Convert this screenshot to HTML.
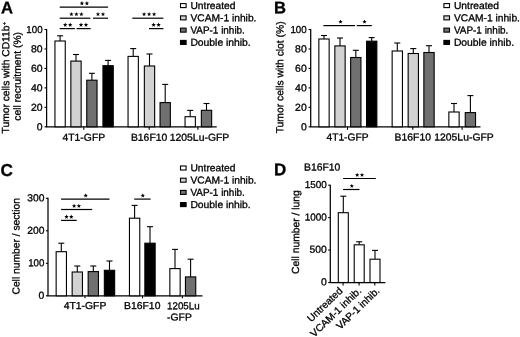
<!DOCTYPE html>
<html><head><meta charset="utf-8"><title>Figure</title>
<style>
html,body{margin:0;padding:0;background:#fff;}
svg{display:block;will-change:transform;font-family:"Liberation Sans",sans-serif;fill:#000;}
text{stroke:#000;stroke-width:0.3px;}
</style></head><body>
<svg width="520" height="337" viewBox="0 0 520 337">
<rect x="0" y="0" width="520" height="337" fill="#fff"/>
<line x1="46.60" y1="29.00" x2="46.60" y2="126.80" stroke="#000" stroke-width="1.25"/>
<line x1="46.00" y1="126.80" x2="216.70" y2="126.80" stroke="#000" stroke-width="1.25"/>
<line x1="44.50" y1="126.80" x2="46.60" y2="126.80" stroke="#000" stroke-width="1.1"/>
<text font-size="10.05" text-anchor="end" transform="matrix(1.04 0.001 0 1 42.60 130.20)">0</text>
<line x1="44.50" y1="107.34" x2="46.60" y2="107.34" stroke="#000" stroke-width="1.1"/>
<text font-size="10.05" text-anchor="end" transform="matrix(1.04 0.001 0 1 42.60 110.74)">20</text>
<line x1="44.50" y1="87.88" x2="46.60" y2="87.88" stroke="#000" stroke-width="1.1"/>
<text font-size="10.05" text-anchor="end" transform="matrix(1.04 0.001 0 1 42.60 91.28)">40</text>
<line x1="44.50" y1="68.42" x2="46.60" y2="68.42" stroke="#000" stroke-width="1.1"/>
<text font-size="10.05" text-anchor="end" transform="matrix(1.04 0.001 0 1 42.60 71.82)">60</text>
<line x1="44.50" y1="48.96" x2="46.60" y2="48.96" stroke="#000" stroke-width="1.1"/>
<text font-size="10.05" text-anchor="end" transform="matrix(1.04 0.001 0 1 42.60 52.36)">80</text>
<line x1="44.50" y1="29.50" x2="46.60" y2="29.50" stroke="#000" stroke-width="1.1"/>
<text font-size="10.05" text-anchor="end" transform="matrix(0.97 0.001 0 1 42.60 32.90)">100</text>
<line x1="83.80" y1="126.80" x2="83.80" y2="129.80" stroke="#000" stroke-width="1.1"/>
<line x1="149.20" y1="126.80" x2="149.20" y2="129.80" stroke="#000" stroke-width="1.1"/>
<line x1="197.90" y1="126.80" x2="197.90" y2="129.80" stroke="#000" stroke-width="1.1"/>
<text font-size="10.05" text-anchor="middle" transform="matrix(1.035 0.001 0 1 83.80 140.70)">4T1-GFP</text>
<text font-size="10.05" text-anchor="middle" transform="matrix(1.035 0.001 0 1 149.10 140.70)">B16F10</text>
<text font-size="10.05" text-anchor="middle" transform="matrix(1.035 0.001 0 1 199.50 140.70)">1205Lu-GFP</text>
<line x1="60.10" y1="35.80" x2="60.10" y2="41.00" stroke="#000" stroke-width="1.1"/>
<line x1="57.10" y1="35.80" x2="63.10" y2="35.80" stroke="#000" stroke-width="1.1"/>
<rect x="54.95" y="41.00" width="10.30" height="85.80" fill="#ffffff" stroke="#000" stroke-width="1.1"/>
<line x1="76.00" y1="54.50" x2="76.00" y2="61.10" stroke="#000" stroke-width="1.1"/>
<line x1="73.00" y1="54.50" x2="79.00" y2="54.50" stroke="#000" stroke-width="1.1"/>
<rect x="70.85" y="61.10" width="10.30" height="65.70" fill="#d2d2d2" stroke="#000" stroke-width="1.1"/>
<line x1="91.90" y1="73.30" x2="91.90" y2="80.20" stroke="#000" stroke-width="1.1"/>
<line x1="88.90" y1="73.30" x2="94.90" y2="73.30" stroke="#000" stroke-width="1.1"/>
<rect x="86.75" y="80.20" width="10.30" height="46.60" fill="#707070" stroke="#000" stroke-width="1.1"/>
<line x1="108.10" y1="60.40" x2="108.10" y2="65.70" stroke="#000" stroke-width="1.1"/>
<line x1="105.10" y1="60.40" x2="111.10" y2="60.40" stroke="#000" stroke-width="1.1"/>
<rect x="102.95" y="65.70" width="10.30" height="61.10" fill="#000000" stroke="#000" stroke-width="1.1"/>
<line x1="133.20" y1="48.60" x2="133.20" y2="56.40" stroke="#000" stroke-width="1.1"/>
<line x1="130.20" y1="48.60" x2="136.20" y2="48.60" stroke="#000" stroke-width="1.1"/>
<rect x="128.05" y="56.40" width="10.30" height="70.40" fill="#ffffff" stroke="#000" stroke-width="1.1"/>
<line x1="149.50" y1="54.00" x2="149.50" y2="66.00" stroke="#000" stroke-width="1.1"/>
<line x1="146.50" y1="54.00" x2="152.50" y2="54.00" stroke="#000" stroke-width="1.1"/>
<rect x="144.35" y="66.00" width="10.30" height="60.80" fill="#d2d2d2" stroke="#000" stroke-width="1.1"/>
<line x1="165.20" y1="84.40" x2="165.20" y2="102.60" stroke="#000" stroke-width="1.1"/>
<line x1="162.20" y1="84.40" x2="168.20" y2="84.40" stroke="#000" stroke-width="1.1"/>
<rect x="160.05" y="102.60" width="10.30" height="24.20" fill="#707070" stroke="#000" stroke-width="1.1"/>
<line x1="190.20" y1="110.40" x2="190.20" y2="116.70" stroke="#000" stroke-width="1.1"/>
<line x1="187.20" y1="110.40" x2="193.20" y2="110.40" stroke="#000" stroke-width="1.1"/>
<rect x="185.05" y="116.70" width="10.30" height="10.10" fill="#ffffff" stroke="#000" stroke-width="1.1"/>
<line x1="206.50" y1="103.50" x2="206.50" y2="110.30" stroke="#000" stroke-width="1.1"/>
<line x1="203.50" y1="103.50" x2="209.50" y2="103.50" stroke="#000" stroke-width="1.1"/>
<rect x="201.35" y="110.30" width="10.30" height="16.50" fill="#707070" stroke="#000" stroke-width="1.1"/>
<line x1="59.70" y1="7.20" x2="108.10" y2="7.20" stroke="#000" stroke-width="1.2"/>
<polygon points="81.90,1.10 82.49,2.59 84.09,2.69 82.85,3.71 83.25,5.26 81.90,4.40 80.55,5.26 80.95,3.71 79.71,2.69 81.31,2.59" fill="#000"/>
<polygon points="86.90,1.10 87.49,2.59 89.09,2.69 87.85,3.71 88.25,5.26 86.90,4.40 85.55,5.26 85.95,3.71 84.71,2.69 86.31,2.59" fill="#000"/>
<line x1="59.70" y1="18.20" x2="90.40" y2="18.20" stroke="#000" stroke-width="1.2"/>
<polygon points="71.40,11.90 71.99,13.39 73.59,13.49 72.35,14.51 72.75,16.06 71.40,15.20 70.05,16.06 70.45,14.51 69.21,13.49 70.81,13.39" fill="#000"/>
<polygon points="76.40,11.90 76.99,13.39 78.59,13.49 77.35,14.51 77.75,16.06 76.40,15.20 75.05,16.06 75.45,14.51 74.21,13.49 75.81,13.39" fill="#000"/>
<polygon points="81.40,11.90 81.99,13.39 83.59,13.49 82.35,14.51 82.75,16.06 81.40,15.20 80.05,16.06 80.45,14.51 79.21,13.49 80.81,13.39" fill="#000"/>
<line x1="93.00" y1="18.20" x2="108.10" y2="18.20" stroke="#000" stroke-width="1.2"/>
<polygon points="98.00,11.90 98.59,13.39 100.19,13.49 98.95,14.51 99.35,16.06 98.00,15.20 96.65,16.06 97.05,14.51 95.81,13.49 97.41,13.39" fill="#000"/>
<polygon points="103.00,11.90 103.59,13.39 105.19,13.49 103.95,14.51 104.35,16.06 103.00,15.20 101.65,16.06 102.05,14.51 100.81,13.49 102.41,13.39" fill="#000"/>
<line x1="59.70" y1="28.60" x2="74.80" y2="28.60" stroke="#000" stroke-width="1.2"/>
<polygon points="65.20,22.60 65.79,24.09 67.39,24.19 66.15,25.21 66.55,26.76 65.20,25.90 63.85,26.76 64.25,25.21 63.01,24.19 64.61,24.09" fill="#000"/>
<polygon points="70.20,22.60 70.79,24.09 72.39,24.19 71.15,25.21 71.55,26.76 70.20,25.90 68.85,26.76 69.25,25.21 68.01,24.19 69.61,24.09" fill="#000"/>
<line x1="76.50" y1="28.60" x2="90.60" y2="28.60" stroke="#000" stroke-width="1.2"/>
<polygon points="81.00,22.60 81.59,24.09 83.19,24.19 81.95,25.21 82.35,26.76 81.00,25.90 79.65,26.76 80.05,25.21 78.81,24.19 80.41,24.09" fill="#000"/>
<polygon points="86.00,22.60 86.59,24.09 88.19,24.19 86.95,25.21 87.35,26.76 86.00,25.90 84.65,26.76 85.05,25.21 83.81,24.19 85.41,24.09" fill="#000"/>
<line x1="132.30" y1="18.20" x2="163.40" y2="18.20" stroke="#000" stroke-width="1.2"/>
<polygon points="144.10,11.90 144.69,13.39 146.29,13.49 145.05,14.51 145.45,16.06 144.10,15.20 142.75,16.06 143.15,14.51 141.91,13.49 143.51,13.39" fill="#000"/>
<polygon points="149.10,11.90 149.69,13.39 151.29,13.49 150.05,14.51 150.45,16.06 149.10,15.20 147.75,16.06 148.15,14.51 146.91,13.49 148.51,13.39" fill="#000"/>
<polygon points="154.10,11.90 154.69,13.39 156.29,13.49 155.05,14.51 155.45,16.06 154.10,15.20 152.75,16.06 153.15,14.51 151.91,13.49 153.51,13.39" fill="#000"/>
<line x1="149.00" y1="28.60" x2="163.40" y2="28.60" stroke="#000" stroke-width="1.2"/>
<polygon points="153.60,22.60 154.19,24.09 155.79,24.19 154.55,25.21 154.95,26.76 153.60,25.90 152.25,26.76 152.65,25.21 151.41,24.19 153.01,24.09" fill="#000"/>
<polygon points="158.60,22.60 159.19,24.09 160.79,24.19 159.55,25.21 159.95,26.76 158.60,25.90 157.25,26.76 157.65,25.21 156.41,24.19 158.01,24.09" fill="#000"/>
<rect x="180.50" y="3.60" width="5.6" height="4" fill="#ffffff" stroke="#000" stroke-width="1.1"/>
<text font-size="10.05" transform="matrix(1.022 0.001 0 1 190.40 8.90)">Untreated</text>
<rect x="180.50" y="15.87" width="5.6" height="4" fill="#d2d2d2" stroke="#000" stroke-width="1.1"/>
<text font-size="10.05" transform="matrix(1.02 0.001 0 1 190.40 21.17)">VCAM-1 inhib.</text>
<rect x="180.50" y="28.14" width="5.6" height="4" fill="#707070" stroke="#000" stroke-width="1.1"/>
<text font-size="10.05" transform="matrix(0.99 0.001 0 1 190.40 33.44)">VAP-1 inhib.</text>
<rect x="180.50" y="40.41" width="5.6" height="4" fill="#000000" stroke="#000" stroke-width="1.1"/>
<text font-size="10.05" transform="matrix(1.03 0.001 0 1 190.40 45.71)">Double inhib.</text>
<text font-size="16.6" font-weight="bold" transform="matrix(1.0 0.001 0 1 1.00 13.20)">A</text>
<text font-size="10.27" transform="translate(9.10 133.40) rotate(-89.94) scale(1.0 1)">Tumor cells with CD11b<tspan font-size="5.5" dx="0.6" dy="-3.0">+</tspan></text>
<text font-size="10.3" transform="translate(20.70 120.70) rotate(-89.94) scale(1.0 1)">cell recruitment (%)</text>
<line x1="310.70" y1="29.00" x2="310.70" y2="126.80" stroke="#000" stroke-width="1.25"/>
<line x1="310.10" y1="126.80" x2="480.50" y2="126.80" stroke="#000" stroke-width="1.25"/>
<line x1="308.60" y1="126.80" x2="310.70" y2="126.80" stroke="#000" stroke-width="1.1"/>
<text font-size="10.05" text-anchor="end" transform="matrix(1.04 0.001 0 1 306.70 130.20)">0</text>
<line x1="308.60" y1="107.34" x2="310.70" y2="107.34" stroke="#000" stroke-width="1.1"/>
<text font-size="10.05" text-anchor="end" transform="matrix(1.04 0.001 0 1 306.70 110.74)">20</text>
<line x1="308.60" y1="87.88" x2="310.70" y2="87.88" stroke="#000" stroke-width="1.1"/>
<text font-size="10.05" text-anchor="end" transform="matrix(1.04 0.001 0 1 306.70 91.28)">40</text>
<line x1="308.60" y1="68.42" x2="310.70" y2="68.42" stroke="#000" stroke-width="1.1"/>
<text font-size="10.05" text-anchor="end" transform="matrix(1.04 0.001 0 1 306.70 71.82)">60</text>
<line x1="308.60" y1="48.96" x2="310.70" y2="48.96" stroke="#000" stroke-width="1.1"/>
<text font-size="10.05" text-anchor="end" transform="matrix(1.04 0.001 0 1 306.70 52.36)">80</text>
<line x1="308.60" y1="29.50" x2="310.70" y2="29.50" stroke="#000" stroke-width="1.1"/>
<text font-size="10.05" text-anchor="end" transform="matrix(0.97 0.001 0 1 306.70 32.90)">100</text>
<line x1="347.50" y1="126.80" x2="347.50" y2="129.80" stroke="#000" stroke-width="1.1"/>
<line x1="412.80" y1="126.80" x2="412.80" y2="129.80" stroke="#000" stroke-width="1.1"/>
<line x1="462.10" y1="126.80" x2="462.10" y2="129.80" stroke="#000" stroke-width="1.1"/>
<text font-size="10.05" text-anchor="middle" transform="matrix(1.02 0.001 0 1 347.50 140.50)">4T1-GFP</text>
<text font-size="10.05" text-anchor="middle" transform="matrix(1.035 0.001 0 1 412.80 140.50)">B16F10</text>
<text font-size="10.05" text-anchor="middle" transform="matrix(1.035 0.001 0 1 464.00 140.50)">1205Lu-GFP</text>
<line x1="324.00" y1="35.50" x2="324.00" y2="39.00" stroke="#000" stroke-width="1.1"/>
<line x1="321.00" y1="35.50" x2="327.00" y2="35.50" stroke="#000" stroke-width="1.1"/>
<rect x="318.85" y="39.00" width="10.30" height="87.80" fill="#ffffff" stroke="#000" stroke-width="1.1"/>
<line x1="340.00" y1="38.00" x2="340.00" y2="45.90" stroke="#000" stroke-width="1.1"/>
<line x1="337.00" y1="38.00" x2="343.00" y2="38.00" stroke="#000" stroke-width="1.1"/>
<rect x="334.85" y="45.90" width="10.30" height="80.90" fill="#d2d2d2" stroke="#000" stroke-width="1.1"/>
<line x1="355.80" y1="50.30" x2="355.80" y2="57.50" stroke="#000" stroke-width="1.1"/>
<line x1="352.80" y1="50.30" x2="358.80" y2="50.30" stroke="#000" stroke-width="1.1"/>
<rect x="350.65" y="57.50" width="10.30" height="69.30" fill="#707070" stroke="#000" stroke-width="1.1"/>
<line x1="371.70" y1="37.60" x2="371.70" y2="41.20" stroke="#000" stroke-width="1.1"/>
<line x1="368.70" y1="37.60" x2="374.70" y2="37.60" stroke="#000" stroke-width="1.1"/>
<rect x="366.55" y="41.20" width="10.30" height="85.60" fill="#000000" stroke="#000" stroke-width="1.1"/>
<line x1="397.30" y1="43.00" x2="397.30" y2="51.00" stroke="#000" stroke-width="1.1"/>
<line x1="394.30" y1="43.00" x2="400.30" y2="43.00" stroke="#000" stroke-width="1.1"/>
<rect x="392.15" y="51.00" width="10.30" height="75.80" fill="#ffffff" stroke="#000" stroke-width="1.1"/>
<line x1="413.30" y1="48.60" x2="413.30" y2="53.50" stroke="#000" stroke-width="1.1"/>
<line x1="410.30" y1="48.60" x2="416.30" y2="48.60" stroke="#000" stroke-width="1.1"/>
<rect x="408.15" y="53.50" width="10.30" height="73.30" fill="#d2d2d2" stroke="#000" stroke-width="1.1"/>
<line x1="429.00" y1="45.70" x2="429.00" y2="52.50" stroke="#000" stroke-width="1.1"/>
<line x1="426.00" y1="45.70" x2="432.00" y2="45.70" stroke="#000" stroke-width="1.1"/>
<rect x="423.85" y="52.50" width="10.30" height="74.30" fill="#707070" stroke="#000" stroke-width="1.1"/>
<line x1="454.00" y1="103.50" x2="454.00" y2="112.00" stroke="#000" stroke-width="1.1"/>
<line x1="451.00" y1="103.50" x2="457.00" y2="103.50" stroke="#000" stroke-width="1.1"/>
<rect x="448.85" y="112.00" width="10.30" height="14.80" fill="#ffffff" stroke="#000" stroke-width="1.1"/>
<line x1="470.40" y1="95.60" x2="470.40" y2="112.60" stroke="#000" stroke-width="1.1"/>
<line x1="467.40" y1="95.60" x2="473.40" y2="95.60" stroke="#000" stroke-width="1.1"/>
<rect x="465.25" y="112.60" width="10.30" height="14.20" fill="#707070" stroke="#000" stroke-width="1.1"/>
<line x1="323.40" y1="25.60" x2="355.00" y2="25.60" stroke="#000" stroke-width="1.2"/>
<polygon points="340.50,19.40 341.09,20.89 342.69,20.99 341.45,22.01 341.85,23.56 340.50,22.70 339.15,23.56 339.55,22.01 338.31,20.99 339.91,20.89" fill="#000"/>
<line x1="356.70" y1="25.60" x2="371.80" y2="25.60" stroke="#000" stroke-width="1.2"/>
<polygon points="364.50,19.40 365.09,20.89 366.69,20.99 365.45,22.01 365.85,23.56 364.50,22.70 363.15,23.56 363.55,22.01 362.31,20.99 363.91,20.89" fill="#000"/>
<rect x="443.90" y="3.60" width="5.6" height="4" fill="#ffffff" stroke="#000" stroke-width="1.1"/>
<text font-size="10.05" transform="matrix(1.022 0.001 0 1 453.90 8.90)">Untreated</text>
<rect x="443.90" y="15.87" width="5.6" height="4" fill="#d2d2d2" stroke="#000" stroke-width="1.1"/>
<text font-size="10.05" transform="matrix(1.02 0.001 0 1 453.90 21.17)">VCAM-1 inhib.</text>
<rect x="443.90" y="28.14" width="5.6" height="4" fill="#707070" stroke="#000" stroke-width="1.1"/>
<text font-size="10.05" transform="matrix(0.99 0.001 0 1 453.90 33.44)">VAP-1 inhib.</text>
<rect x="443.90" y="40.41" width="5.6" height="4" fill="#000000" stroke="#000" stroke-width="1.1"/>
<text font-size="10.05" transform="matrix(1.03 0.001 0 1 453.90 45.71)">Double inhib.</text>
<text font-size="16.6" font-weight="bold" transform="matrix(1.0 0.001 0 1 274.10 13.20)">B</text>
<text font-size="10.32" transform="translate(283.30 133.30) rotate(-89.94) scale(1.0 1)">Tumor cells with clot (%)</text>
<line x1="48.00" y1="197.80" x2="48.00" y2="295.80" stroke="#000" stroke-width="1.25"/>
<line x1="47.40" y1="295.80" x2="202.50" y2="295.80" stroke="#000" stroke-width="1.25"/>
<line x1="45.90" y1="295.80" x2="48.00" y2="295.80" stroke="#000" stroke-width="1.1"/>
<text font-size="10.05" text-anchor="end" transform="matrix(1.04 0.001 0 1 44.40 298.80)">0</text>
<line x1="45.90" y1="263.30" x2="48.00" y2="263.30" stroke="#000" stroke-width="1.1"/>
<text font-size="10.05" text-anchor="end" transform="matrix(0.97 0.001 0 1 44.40 266.30)">100</text>
<line x1="45.90" y1="230.80" x2="48.00" y2="230.80" stroke="#000" stroke-width="1.1"/>
<text font-size="10.05" text-anchor="end" transform="matrix(1.03 0.001 0 1 44.40 233.80)">200</text>
<line x1="45.90" y1="198.30" x2="48.00" y2="198.30" stroke="#000" stroke-width="1.1"/>
<text font-size="10.05" text-anchor="end" transform="matrix(1.03 0.001 0 1 44.40 201.30)">300</text>
<line x1="85.00" y1="295.80" x2="85.00" y2="298.30" stroke="#000" stroke-width="1.1"/>
<line x1="142.50" y1="295.80" x2="142.50" y2="298.30" stroke="#000" stroke-width="1.1"/>
<line x1="182.40" y1="295.80" x2="182.40" y2="298.30" stroke="#000" stroke-width="1.1"/>
<text font-size="10.05" text-anchor="middle" transform="matrix(1.035 0.001 0 1 85.00 309.10)">4T1-GFP</text>
<text font-size="10.05" text-anchor="middle" transform="matrix(1.035 0.001 0 1 142.20 309.10)">B16F10</text>
<text font-size="10.05" transform="matrix(0.975 0.001 0 1 167.00 309.20)">1205Lu</text>
<text font-size="10.05" transform="matrix(1.035 0.001 0 1 167.00 320.60)">-GFP</text>
<line x1="61.30" y1="243.20" x2="61.30" y2="251.70" stroke="#000" stroke-width="1.1"/>
<line x1="58.30" y1="243.20" x2="64.30" y2="243.20" stroke="#000" stroke-width="1.1"/>
<rect x="56.15" y="251.70" width="10.30" height="44.10" fill="#ffffff" stroke="#000" stroke-width="1.1"/>
<line x1="77.30" y1="266.00" x2="77.30" y2="272.00" stroke="#000" stroke-width="1.1"/>
<line x1="74.30" y1="266.00" x2="80.30" y2="266.00" stroke="#000" stroke-width="1.1"/>
<rect x="72.15" y="272.00" width="10.30" height="23.80" fill="#d2d2d2" stroke="#000" stroke-width="1.1"/>
<line x1="93.30" y1="266.00" x2="93.30" y2="271.60" stroke="#000" stroke-width="1.1"/>
<line x1="90.30" y1="266.00" x2="96.30" y2="266.00" stroke="#000" stroke-width="1.1"/>
<rect x="88.15" y="271.60" width="10.30" height="24.20" fill="#707070" stroke="#000" stroke-width="1.1"/>
<line x1="109.50" y1="261.00" x2="109.50" y2="270.30" stroke="#000" stroke-width="1.1"/>
<line x1="106.50" y1="261.00" x2="112.50" y2="261.00" stroke="#000" stroke-width="1.1"/>
<rect x="104.35" y="270.30" width="10.30" height="25.50" fill="#000000" stroke="#000" stroke-width="1.1"/>
<line x1="134.60" y1="205.40" x2="134.60" y2="218.20" stroke="#000" stroke-width="1.1"/>
<line x1="131.60" y1="205.40" x2="137.60" y2="205.40" stroke="#000" stroke-width="1.1"/>
<rect x="129.45" y="218.20" width="10.30" height="77.60" fill="#ffffff" stroke="#000" stroke-width="1.1"/>
<line x1="150.00" y1="226.70" x2="150.00" y2="243.20" stroke="#000" stroke-width="1.1"/>
<line x1="147.00" y1="226.70" x2="153.00" y2="226.70" stroke="#000" stroke-width="1.1"/>
<rect x="144.85" y="243.20" width="10.30" height="52.60" fill="#000000" stroke="#000" stroke-width="1.1"/>
<line x1="175.00" y1="249.40" x2="175.00" y2="268.60" stroke="#000" stroke-width="1.1"/>
<line x1="172.00" y1="249.40" x2="178.00" y2="249.40" stroke="#000" stroke-width="1.1"/>
<rect x="169.85" y="268.60" width="10.30" height="27.20" fill="#ffffff" stroke="#000" stroke-width="1.1"/>
<line x1="190.60" y1="259.20" x2="190.60" y2="276.90" stroke="#000" stroke-width="1.1"/>
<line x1="187.60" y1="259.20" x2="193.60" y2="259.20" stroke="#000" stroke-width="1.1"/>
<rect x="185.45" y="276.90" width="10.30" height="18.90" fill="#707070" stroke="#000" stroke-width="1.1"/>
<line x1="61.10" y1="199.10" x2="109.50" y2="199.10" stroke="#000" stroke-width="1.2"/>
<polygon points="85.70,193.30 86.29,194.79 87.89,194.89 86.65,195.91 87.05,197.46 85.70,196.60 84.35,197.46 84.75,195.91 83.51,194.89 85.11,194.79" fill="#000"/>
<line x1="61.10" y1="209.50" x2="92.20" y2="209.50" stroke="#000" stroke-width="1.2"/>
<polygon points="74.10,203.70 74.69,205.19 76.29,205.29 75.05,206.31 75.45,207.86 74.10,207.00 72.75,207.86 73.15,206.31 71.91,205.29 73.51,205.19" fill="#000"/>
<polygon points="78.90,203.70 79.49,205.19 81.09,205.29 79.85,206.31 80.25,207.86 78.90,207.00 77.55,207.86 77.95,206.31 76.71,205.29 78.31,205.19" fill="#000"/>
<line x1="61.10" y1="220.40" x2="76.70" y2="220.40" stroke="#000" stroke-width="1.2"/>
<polygon points="66.50,214.60 67.09,216.09 68.69,216.19 67.45,217.21 67.85,218.76 66.50,217.90 65.15,218.76 65.55,217.21 64.31,216.19 65.91,216.09" fill="#000"/>
<polygon points="71.30,214.60 71.89,216.09 73.49,216.19 72.25,217.21 72.65,218.76 71.30,217.90 69.95,218.76 70.35,217.21 69.11,216.19 70.71,216.09" fill="#000"/>
<line x1="134.20" y1="199.10" x2="150.60" y2="199.10" stroke="#000" stroke-width="1.2"/>
<polygon points="142.80,193.30 143.39,194.79 144.99,194.89 143.75,195.91 144.15,197.46 142.80,196.60 141.45,197.46 141.85,195.91 140.61,194.89 142.21,194.79" fill="#000"/>
<rect x="180.50" y="166.00" width="5.6" height="4" fill="#ffffff" stroke="#000" stroke-width="1.1"/>
<text font-size="10.05" transform="matrix(1.022 0.001 0 1 190.40 171.30)">Untreated</text>
<rect x="180.50" y="178.20" width="5.6" height="4" fill="#d2d2d2" stroke="#000" stroke-width="1.1"/>
<text font-size="10.05" transform="matrix(1.02 0.001 0 1 190.40 183.50)">VCAM-1 inhib.</text>
<rect x="180.50" y="190.40" width="5.6" height="4" fill="#707070" stroke="#000" stroke-width="1.1"/>
<text font-size="10.05" transform="matrix(0.99 0.001 0 1 190.40 195.70)">VAP-1 inhib.</text>
<rect x="180.50" y="202.60" width="5.6" height="4" fill="#000000" stroke="#000" stroke-width="1.1"/>
<text font-size="10.05" transform="matrix(1.03 0.001 0 1 190.40 207.90)">Double inhib.</text>
<text font-size="17.2" font-weight="bold" transform="matrix(1.0 0.001 0 1 0.40 175.90)">C</text>
<text font-size="10.27" transform="translate(19.40 294.50) rotate(-89.94) scale(1.0 1)">Cell number / section</text>
<line x1="330.30" y1="184.70" x2="330.30" y2="282.50" stroke="#000" stroke-width="1.25"/>
<line x1="329.70" y1="282.50" x2="385.40" y2="282.50" stroke="#000" stroke-width="1.25"/>
<line x1="328.20" y1="282.50" x2="330.30" y2="282.50" stroke="#000" stroke-width="1.1"/>
<text font-size="10.05" text-anchor="end" transform="matrix(1.04 0.001 0 1 326.80 285.30)">0</text>
<line x1="328.20" y1="250.07" x2="330.30" y2="250.07" stroke="#000" stroke-width="1.1"/>
<text font-size="10.05" text-anchor="end" transform="matrix(1.03 0.001 0 1 326.80 252.87)">500</text>
<line x1="328.20" y1="217.63" x2="330.30" y2="217.63" stroke="#000" stroke-width="1.1"/>
<text font-size="10.05" text-anchor="end" transform="matrix(0.99 0.001 0 1 326.80 220.43)">1000</text>
<line x1="328.20" y1="185.20" x2="330.30" y2="185.20" stroke="#000" stroke-width="1.1"/>
<text font-size="10.05" text-anchor="end" transform="matrix(0.99 0.001 0 1 326.80 188.00)">1500</text>
<line x1="343.10" y1="282.50" x2="343.10" y2="285.50" stroke="#000" stroke-width="1.1"/>
<line x1="359.10" y1="282.50" x2="359.10" y2="285.50" stroke="#000" stroke-width="1.1"/>
<line x1="374.80" y1="282.50" x2="374.80" y2="285.50" stroke="#000" stroke-width="1.1"/>
<line x1="343.30" y1="196.20" x2="343.30" y2="212.70" stroke="#000" stroke-width="1.1"/>
<line x1="340.30" y1="196.20" x2="346.30" y2="196.20" stroke="#000" stroke-width="1.1"/>
<rect x="338.30" y="212.70" width="10.00" height="69.80" fill="#ffffff" stroke="#000" stroke-width="1.1"/>
<line x1="359.20" y1="241.80" x2="359.20" y2="244.80" stroke="#000" stroke-width="1.1"/>
<line x1="356.20" y1="241.80" x2="362.20" y2="241.80" stroke="#000" stroke-width="1.1"/>
<rect x="354.20" y="244.80" width="10.00" height="37.70" fill="#ffffff" stroke="#000" stroke-width="1.1"/>
<line x1="375.00" y1="250.40" x2="375.00" y2="259.20" stroke="#000" stroke-width="1.1"/>
<line x1="372.00" y1="250.40" x2="378.00" y2="250.40" stroke="#000" stroke-width="1.1"/>
<rect x="370.00" y="259.20" width="10.00" height="23.30" fill="#ffffff" stroke="#000" stroke-width="1.1"/>
<line x1="343.10" y1="178.50" x2="375.80" y2="178.50" stroke="#000" stroke-width="1.2"/>
<polygon points="357.20,172.70 357.79,174.19 359.39,174.29 358.15,175.31 358.55,176.86 357.20,176.00 355.85,176.86 356.25,175.31 355.01,174.29 356.61,174.19" fill="#000"/>
<polygon points="362.00,172.70 362.59,174.19 364.19,174.29 362.95,175.31 363.35,176.86 362.00,176.00 360.65,176.86 361.05,175.31 359.81,174.29 361.41,174.19" fill="#000"/>
<line x1="343.10" y1="189.50" x2="359.50" y2="189.50" stroke="#000" stroke-width="1.2"/>
<polygon points="351.80,183.70 352.39,185.19 353.99,185.29 352.75,186.31 353.15,187.86 351.80,187.00 350.45,187.86 350.85,186.31 349.61,185.29 351.21,185.19" fill="#000"/>
<text font-size="10.05" transform="matrix(1.035 0.001 0 1 304.00 170.50)">B16F10</text>
<text font-size="17.0" font-weight="bold" transform="matrix(1.0 0.001 0 1 274.00 175.30)">D</text>
<text font-size="10.33" transform="translate(299.10 274.00) rotate(-89.94) scale(1.0 1)">Cell number / lung</text>
<text font-size="10.1" text-anchor="end" transform="translate(343.20 291.70) rotate(-43.94) scale(1.0 1)">Untreated</text>
<text font-size="10.1" text-anchor="end" transform="translate(362.00 291.60) rotate(-43.94) scale(1.02 1)">VCAM-1 inhib.</text>
<text font-size="10.1" text-anchor="end" transform="translate(380.20 291.50) rotate(-43.94) scale(1.0 1)">VAP-1 inhib.</text>
</svg>
</body></html>
